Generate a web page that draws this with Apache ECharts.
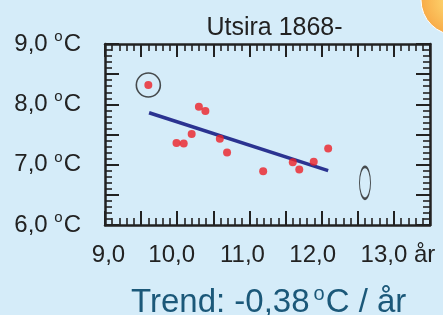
<!DOCTYPE html>
<html>
<head>
<meta charset="utf-8">
<script src="https://cdn.jsdelivr.net/npm/echarts@6/dist/echarts.min.js"></script>
<style>
  html, body { margin: 0; padding: 0; background: #d5ecf9; }
  #main { width: 443px; height: 315px; }
</style>
</head>
<body>
<div id="main"></div>
<script>
// punktene (x = år-akse, y = temperatur)
var pointX = [9.60, 10.30, 10.39, 10.20, 9.99, 10.09, 10.59, 10.69, 12.09, 11.19, 11.60, 11.69, 11.89];
var pointY = [8.32, 7.96, 7.89, 7.51, 7.36, 7.35, 7.43, 7.20, 7.27, 6.89, 7.04, 6.92, 7.05];

// trendlinje
var trendX = [9.61, 12.09];
var trendY = [7.86, 6.90];

// markeringer: sirkel rundt første punkt, ellipse
var circleX = [9.60], circleY = [8.32];
var ellipseX = [12.60], ellipseY = [6.70];

var xTicks = [9, 10, 11, 12, 13];
var yTicks = [6, 7, 8, 9];

function pairs(xs, ys) {
    return xs.map(function (x, i) { return [x, ys[i]]; });
}

var font = 'Liberation Sans, Arial, sans-serif';
var ink = '#222';

window.onload = function () {
    var myChart = echarts.init(document.getElementById('main'));

    var axisLine = { show: true, lineStyle: { color: ink, width: 2.5 } };
    var tick = { show: true, inside: true, length: 14, lineStyle: { color: ink, width: 2 } };
    var minor = { show: true, splitNumber: 5, length: 7, lineStyle: { color: ink, width: 1.6 } };

    // små forskyvninger av x-etikettene som i originalen
    var xRich = {
        a9: { padding: [0, 0, 0, 7] },
        a10: { padding: [0, 11, 0, 0] },
        a11: { padding: [0, 14, 0, 0] },
        a12: { padding: [0, 18, 0, 0] },
        a13: { padding: [0, 0, 0, 8] }
    };

    var option = {
        backgroundColor: '#d5ecf9',
        animation: false,
        title: {
            text: 'Utsira 1868-',
            left: 269.5,
            top: 11,
            textAlign: 'center',
            textStyle: { fontFamily: font, fontSize: 25, fontWeight: 'normal', color: ink }
        },
        grid: { left: 105, right: 13, top: 44, bottom: 90 },
        xAxis: [{
            type: 'value', position: 'bottom', min: 9, max: 13.5, interval: 0.5,
            axisLine: axisLine, axisTick: tick, minorTick: minor,
            splitLine: { show: false },
            axisLabel: {
                margin: 18, fontFamily: font, fontSize: 24, color: ink, rich: xRich,
                formatter: function (v) {
                    if (xTicks.indexOf(v) < 0) return '';
                    var s = v.toFixed(1).replace('.', ',');
                    if (v === 13) s += ' år';
                    return '{a' + v + '|' + s + '}';
                }
            }
        }, {
            type: 'value', position: 'top', min: 9, max: 13.5, interval: 0.5,
            axisLine: axisLine, axisTick: { show: true, inside: true, length: 13, lineStyle: { color: ink, width: 2 } },
            minorTick: minor, splitLine: { show: false }, axisLabel: { show: false }
        }],
        yAxis: [{
            type: 'value', position: 'left', min: 6, max: 9, interval: 0.5,
            axisLine: axisLine, axisTick: tick, minorTick: minor,
            splitLine: { show: false },
            axisLabel: {
                margin: 24, fontFamily: font, fontSize: 24, lineHeight: 24, color: ink,
                rich: {
                    n: { fontSize: 24, lineHeight: 24 },
                    o: { fontSize: 15, lineHeight: 10, padding: [0, 1, 14, 0] }
                },
                formatter: function (v) {
                    if (yTicks.indexOf(v) < 0) return '';
                    return '{n|' + v.toFixed(1).replace('.', ',') + ' }{o|o}{n|C}';
                }
            }
        }, {
            type: 'value', position: 'right', min: 6, max: 9, interval: 0.5,
            axisLine: axisLine, axisTick: tick, minorTick: minor,
            splitLine: { show: false }, axisLabel: { show: false }
        }],
        series: [{
            name: 'trend',
            type: 'line',
            data: pairs(trendX, trendY),
            symbol: 'none',
            lineStyle: { color: '#2b3391', width: 3.5 },
            z: 2
        }, {
            name: 'punkter',
            type: 'scatter',
            data: pairs(pointX, pointY),
            symbolSize: 8,
            itemStyle: { color: '#ec2027' },
            z: 3
        }, {
            name: 'sirkel',
            type: 'scatter',
            data: pairs(circleX, circleY),
            symbolSize: 24,
            itemStyle: { color: 'rgba(0,0,0,0)', borderColor: ink, borderWidth: 1.6 },
            silent: true,
            z: 4
        }, {
            name: 'ellipse',
            type: 'scatter',
            data: pairs(ellipseX, ellipseY),
            symbolSize: [11, 32],
            itemStyle: { color: 'rgba(0,0,0,0)', borderColor: ink, borderWidth: 1.6 },
            silent: true,
            z: 4
        }],
        graphic: [{
            type: 'circle',
            shape: { cx: 456, cy: 0, r: 35 },
            style: {
                fill: {
                    type: 'radial', x: 0.5, y: 0.5, r: 0.5,
                    colorStops: [{ offset: 0, color: '#ffe27a' }, { offset: 1, color: '#f8ab48' }]
                },
                stroke: '#ffffff', lineWidth: 1
            }
        }, {
            type: 'text',
            left: 131,
            top: 284,
            style: {
                text: '{n|Trend: -0,38}{o|o}{n|C / år}',
                fontFamily: font, fontSize: 33, fill: '#1b5879',
                rich: {
                    n: { fontSize: 33, lineHeight: 33 },
                    o: { fontSize: 20, lineHeight: 13, padding: [0, 1, 18, 4] }
                }
            }
        }]
    };

    myChart.setOption(option);
};
</script>
</body>
</html>
